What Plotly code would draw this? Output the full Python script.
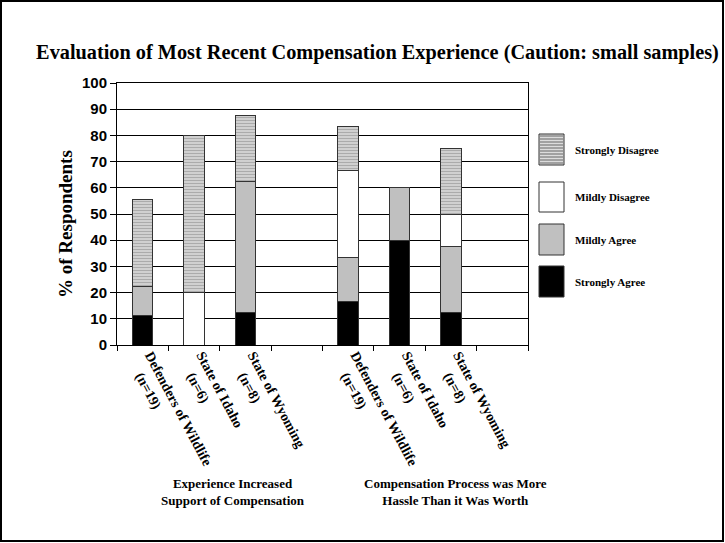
import plotly.graph_objects as go

# ---------------- data ----------------
series_names = ["Strongly Agree", "Mildly Agree", "Mildly Disagree", "Strongly Disagree"]
sources = ["Defenders of Wildlife", "State of Idaho", "State of Wyoming"]
sample_sizes = ["(n=19)", "(n=6)", "(n=8)"]
strongly_agree = [11.1, 0, 12.5, None, 16.7, 40, 12.5, None]
mildly_agree = [11.1, 0, 50, None, 16.7, 20, 25, None]
mildly_disagree = [0, 20, 0, None, 33.3, 0, 12.5, None]
strongly_disagree = [33.3, 60, 25, None, 16.7, 0, 25, None]
group_labels = [
    "Experience Increased<br>Support of Compensation",
    "Compensation Process was More<br>Hassle Than it Was Worth",
]
title_text = "Evaluation of Most Recent Compensation Experience (Caution: small samples)"
y_title = "% of Respondents"

pad = "&nbsp;" * 4
group_ticks = ["<b>%s<br>%s%s</b>" % (s, pad, n) for s, n in zip(sources, sample_sizes)] + [""]
tick_labels = group_ticks + group_ticks

# ---------------- layout geometry (pixels) ----------------
W, H = 725, 543
L, R, T, B = 117, 528, 83, 345
pw, ph = R - L, B - T


def px_x(x):
    return (x - L) / pw


def px_y(y):
    return (B - y) / ph


SERIF = "Liberation Serif, Times New Roman, serif"
SANS = "Liberation Sans, Arial, sans-serif"
edge = "#333333"
stripe_fg, stripe_bg = "#7a7a7a", "#dcdcdc"
stripe = dict(shape="-", fgcolor=stripe_fg, bgcolor=stripe_bg, size=3, solidity=0.5)
fills = {
    "Strongly Agree": dict(color="black"),
    "Mildly Agree": dict(color="#c0c0c0"),
    "Mildly Disagree": dict(color="white"),
    "Strongly Disagree": dict(color=stripe_bg, pattern=stripe),
}
values = [strongly_agree, mildly_agree, mildly_disagree, strongly_disagree]
xpos = list(range(len(tick_labels)))

fig = go.Figure()
for name, vals in zip(series_names, values):
    mk = dict(fills[name])
    mk["line"] = dict(color=edge, width=1)
    fig.add_trace(go.Bar(x=xpos, y=vals, name=name, width=0.4, marker=mk,
                         showlegend=False, hoverinfo="skip"))

shapes = []
annotations = []

# outer frame of the whole picture
shapes.append(dict(type="rect", xref="paper", yref="paper",
                   x0=px_x(1), x1=px_x(W - 2), y0=px_y(H - 2), y1=px_y(1),
                   line=dict(color="black", width=2), fillcolor="rgba(0,0,0,0)", layer="below"))

# manual legend (top to bottom: Strongly Disagree ... Strongly Agree)
legend_rows = [(134, 165), (182, 212), (224, 255), (266, 297)]
for (y0, y1), name in zip(legend_rows, series_names[::-1]):
    f = fills[name]
    shapes.append(dict(type="rect", xref="paper", yref="paper",
                       x0=px_x(539), x1=px_x(564), y0=px_y(y1), y1=px_y(y0),
                       line=dict(color=edge, width=1), fillcolor=f["color"]))
    if "pattern" in f:
        yy = y0 + 2
        while yy < y1 - 1:
            shapes.append(dict(type="line", xref="paper", yref="paper",
                               x0=px_x(540), x1=px_x(563), y0=px_y(yy), y1=px_y(yy),
                               line=dict(color=stripe_fg, width=1.2)))
            yy += 3
    annotations.append(dict(x=px_x(573), y=px_y((y0 + y1) / 2), xref="paper", yref="paper",
                            xanchor="left", yanchor="middle", showarrow=False,
                            text="<b>%s</b>" % name, font=dict(family=SERIF, size=11, color="black")))

# group labels
for gx, txt in zip([233, 455], group_labels):
    annotations.append(dict(x=px_x(gx), y=px_y(492), xref="paper", yref="paper",
                            xanchor="center", yanchor="middle", showarrow=False,
                            text="<b>%s</b>" % txt, align="center",
                            font=dict(family=SERIF, size=13, color="black")))

# y axis title
annotations.append(dict(x=px_x(65), y=px_y(224), xref="paper", yref="paper",
                        xanchor="center", yanchor="middle", showarrow=False, textangle=-90,
                        text="<b>%s</b>" % y_title, font=dict(family=SERIF, size=19, color="black")))

fig.update_layout(
    width=W, height=H,
    margin=dict(l=L, r=W - R, t=T, b=H - B),
    paper_bgcolor="white", plot_bgcolor="white",
    barmode="stack", bargap=0.6,
    title=dict(text="<b>%s</b>" % title_text, xref="container", yref="container",
               x=377.5 / W, xanchor="center", y=1 - 52 / H, yanchor="middle",
               font=dict(family=SERIF, size=20.3, color="black")),
    xaxis=dict(range=[-0.5, len(tick_labels) - 0.5], tickmode="array", tickvals=xpos,
               ticktext=tick_labels, ticks="", tickangle=62,
               tickfont=dict(family=SERIF, size=14, color="black"),
               showline=True, linecolor="black", linewidth=1, mirror=True, showgrid=False,
               zeroline=False,
               minor=dict(tickmode="array", tickvals=[i - 0.5 for i in range(len(tick_labels) + 1)],
                          ticks="outside", ticklen=5, tickcolor="black", tickwidth=1, showgrid=False)),
    yaxis=dict(range=[0, 100], tickmode="linear", tick0=0, dtick=10, ticks="outside", ticklen=6,
               tickcolor="black", showline=True, linecolor="black", linewidth=1, mirror=True,
               showgrid=True, gridcolor="black", gridwidth=1, zeroline=False,
               tickfont=dict(family=SANS, size=15, color="black", weight="bold")),
    shapes=shapes, annotations=annotations,
)

fig.write_html(
    "out.html",
    config={"displayModeBar": False},
    post_script="document.body.style.margin='0';document.body.style.padding='0';"
                "document.body.style.overflow='hidden';",
)
